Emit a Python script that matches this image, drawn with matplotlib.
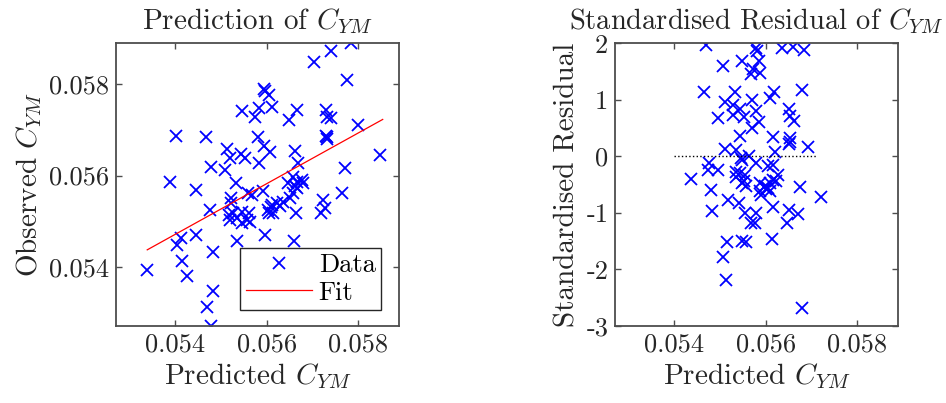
import numpy as np
import matplotlib
matplotlib.use('Agg')
import matplotlib.pyplot as plt

# Left panel: predicted vs observed C_YM
pred_x = [0.05785, 0.05741, 0.05704, 0.05777, 0.05595, 0.05597, 0.05606, 0.05545,
          0.05583, 0.05611, 0.05575, 0.05650, 0.05667, 0.05730, 0.05732, 0.05741,
          0.05801, 0.05401, 0.05468, 0.05582, 0.05730, 0.05732, 0.05733, 0.05595,
          0.05514, 0.05543, 0.05552, 0.05519, 0.05608, 0.05663, 0.05583, 0.05478,
          0.05508, 0.05668, 0.05849, 0.05772, 0.05389, 0.05445, 0.05533, 0.05648,
          0.05657, 0.05667, 0.05677, 0.05679, 0.05666, 0.05593, 0.05569, 0.05560,
          0.05659, 0.05651, 0.05765, 0.05522, 0.05523, 0.05475, 0.05604, 0.05612,
          0.05622, 0.05637, 0.05615, 0.05725, 0.05728, 0.05719, 0.05664, 0.05517,
          0.05527, 0.05519, 0.05547, 0.05562, 0.05556, 0.05545, 0.05563, 0.05536,
          0.05596, 0.05534, 0.05660, 0.05445, 0.05413, 0.05404, 0.05483, 0.05338,
          0.05415, 0.05426, 0.05483, 0.05470, 0.05479, 0.05630, 0.05610, 0.05605,
          0.05663]
obs_y = [0.05891, 0.05872, 0.05848, 0.05809, 0.05790, 0.05786, 0.05777, 0.05741,
         0.05748, 0.05750, 0.05728, 0.05722, 0.05743, 0.05743, 0.05729, 0.05727,
         0.05711, 0.05687, 0.05685, 0.05684, 0.05687, 0.05680, 0.05684, 0.05665,
         0.05658, 0.05647, 0.05638, 0.05639, 0.05652, 0.05653, 0.05628, 0.05619,
         0.05613, 0.05628, 0.05645, 0.05616, 0.05586, 0.05569, 0.05583, 0.05583,
         0.05597, 0.05586, 0.05590, 0.05583, 0.05572, 0.05566, 0.05557, 0.05561,
         0.05561, 0.05550, 0.05561, 0.05550, 0.05539, 0.05524, 0.05524, 0.05535,
         0.05539, 0.05542, 0.05517, 0.05546, 0.05528, 0.05517, 0.05518, 0.05513,
         0.05518, 0.05502, 0.05520, 0.05518, 0.05502, 0.05495, 0.05498, 0.05506,
         0.05470, 0.05456, 0.05456, 0.05469, 0.05464, 0.05447, 0.05432, 0.05393,
         0.05412, 0.05379, 0.05346, 0.05311, 0.05271, 0.05533, 0.05530, 0.05518,
         0.05578]

fit_x = [0.05338, 0.05855]
fit_y = [0.05437, 0.05723]

# Right panel: standardised residuals
res_x = [0.05470, 0.05578, 0.05581, 0.05637, 0.05660, 0.05684, 0.05506, 0.05549,
         0.05585, 0.05572, 0.05568, 0.05587, 0.05464, 0.05532, 0.05511, 0.05528,
         0.05543, 0.05528, 0.05571, 0.05578, 0.05552, 0.05495, 0.05585, 0.05571,
         0.05610, 0.05618, 0.05681, 0.05651, 0.05653, 0.05662, 0.05616, 0.05653,
         0.05654, 0.05651, 0.05693, 0.05543, 0.05511, 0.05536, 0.05547, 0.05563,
         0.05578, 0.05549, 0.05620, 0.05605, 0.05616, 0.05437, 0.05475, 0.05473,
         0.05495, 0.05534, 0.05543, 0.05554, 0.05536, 0.05549, 0.05556, 0.05552,
         0.05587, 0.05598, 0.05587, 0.05590, 0.05605, 0.05610, 0.05616, 0.05627,
         0.05623, 0.05600, 0.05610, 0.05481, 0.05675, 0.05722, 0.05517, 0.05541,
         0.05616, 0.05483, 0.05554, 0.05579, 0.05568, 0.05576, 0.05651, 0.05671,
         0.05646, 0.05549, 0.05558, 0.05615, 0.05515, 0.05506, 0.05514, 0.05681]
res_y = [1.97, 1.91, 1.87, 1.91, 1.94, 1.88, 1.59, 1.69,
         1.69, 1.55, 1.45, 1.47, 1.13, 1.13, 0.96, 0.90,
         0.84, 0.74, 1.00, 0.80, 0.70, 0.68, 0.60, 0.50,
         1.04, 1.13, 1.17, 0.83, 0.71, 0.62, 0.34, 0.33,
         0.25, 0.21, 0.17, 0.36, 0.13, 0.11, -0.03, 0.01,
         -0.11, -0.06, 0.07, -0.17, -0.15, -0.40, -0.12, -0.24,
         -0.24, -0.27, -0.30, -0.33, -0.36, -0.47, -0.52, -0.44,
         -0.47, -0.53, -0.62, -0.68, -0.56, -0.47, -0.41, -0.33,
         -0.44, -0.58, -0.62, -0.59, -0.55, -0.71, -0.77, -0.82,
         -0.89, -0.96, -1.00, -1.00, -1.17, -1.17, -0.94, -1.02,
         -1.17, -1.49, -1.51, -1.47, -1.51, -1.78, -2.18, -2.68]

zero_x = [0.0540, 0.0571]

ax_lim = [0.0527, 0.0589]
val_ticks = [0.054, 0.056, 0.058]
val_labels = ['0.054', '0.056', '0.058']
res_ticks = [-3, -2, -1, 0, 1, 2]
res_labels = ['-3', '-2', '-1', '0', '1', '2']

plt.rcParams['font.family'] = 'serif'
plt.rcParams['font.serif'] = ['cmr10']
plt.rcParams['mathtext.fontset'] = 'cm'
plt.rcParams['axes.unicode_minus'] = False
plt.rcParams['axes.formatter.use_mathtext'] = True

spine_col = '#4d4d4d'
text_col = '#262626'
big = 21

def style_axes(ax):
    for s in ax.spines.values():
        s.set_color(spine_col)
        s.set_linewidth(1.3)
    ax.tick_params(direction='in', top=True, right=True, length=4,
                   width=1.0, color=spine_col, labelsize=19,
                   labelcolor=text_col, pad=5)

fig = plt.figure(figsize=(9.46, 4.03), dpi=100)
ax1 = fig.add_axes([0.1229, 0.1911, 0.2985, 0.7015])
ax2 = fig.add_axes([0.6504, 0.1911, 0.2985, 0.7015])

# left: prediction
ax1.plot(pred_x, obs_y, 'x', color='blue', ms=8, mew=1.3, label='Data')
ax1.plot(fit_x, fit_y, '-', color='red', lw=0.9, label='Fit')
ax1.set_xlim(ax_lim)
ax1.set_ylim(ax_lim)
ax1.set_xticks(val_ticks)
ax1.set_xticklabels(val_labels)
ax1.set_yticks(val_ticks)
ax1.set_yticklabels(val_labels)
style_axes(ax1)
ax1.set_title(r'Prediction of $C_{YM}$', fontsize=big, color=text_col, pad=10)
ax1.set_xlabel(r'Predicted $C_{YM}$', fontsize=big, color=text_col, labelpad=3)
ax1.set_ylabel(r'Observed $C_{YM}$', fontsize=big, color=text_col, labelpad=4)
leg = ax1.legend(loc='lower right', bbox_to_anchor=(0.937, 0.057),
                 borderaxespad=0, fontsize=19, numpoints=1, fancybox=False,
                 framealpha=1, edgecolor=text_col, handlelength=2.5,
                 handletextpad=0.27, borderpad=0.2, labelspacing=0.15)
leg.get_frame().set_linewidth(1.0)

# right: residuals
ax2.plot(res_x, res_y, 'x', color='blue', ms=8, mew=1.3)
ax2.plot(zero_x, [0, 0], ':', color='black', lw=1.0)
ax2.set_xlim(ax_lim)
ax2.set_ylim(-3, 2)
ax2.set_xticks(val_ticks)
ax2.set_xticklabels(val_labels)
ax2.set_yticks(res_ticks)
ax2.set_yticklabels(res_labels)
style_axes(ax2)
ax2.set_title(r'Standardised Residual of $C_{YM}$', fontsize=20.5, color=text_col, pad=10)
ax2.set_xlabel(r'Predicted $C_{YM}$', fontsize=big, color=text_col, labelpad=3)
ax2.set_ylabel('Standardised Residual', fontsize=big, color=text_col, labelpad=4)

fig.savefig('out.png', dpi=100)
